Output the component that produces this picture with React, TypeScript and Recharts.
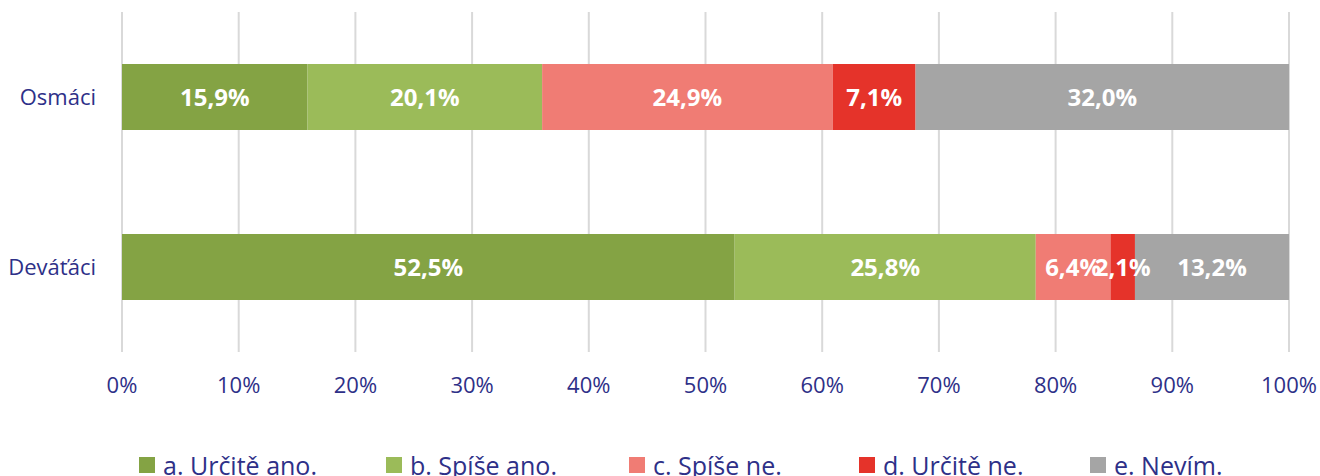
import * as React from "react";
import {
	BarChart,
	Bar,
	XAxis,
	YAxis,
	CartesianGrid,
	Legend,
	LabelList,
} from "recharts";

// ─── Data ──────────────────────────────────────────────────────────────────

const categories = ["Osmáci", "Deváťáci"];
const seriesNames = [
	"a. Určitě ano.",
	"b. Spíše ano.",
	"c. Spíše ne.",
	"d. Určitě ne.",
	"e. Nevím.",
];
const seriesKeys = ["a", "b", "c", "d", "e"];
const urciteAno = [15.9, 52.5];
const spiseAno = [20.1, 25.8];
const spiseNe = [24.9, 6.4];
const urciteNe = [7.1, 2.1];
const nevim = [32.0, 13.2];
const xTicks = [0, 10, 20, 30, 40, 50, 60, 70, 80, 90, 100];

const colors = ["#84a344", "#9bbb59", "#f07c74", "#e5332a", "#a5a5a5"];
const textColor = "#2e3088";
const fontFamily = "'Open Sans', 'Noto Sans', sans-serif";

const data = categories.map((name, i) => ({
	name,
	a: urciteAno[i],
	b: spiseAno[i],
	c: spiseNe[i],
	d: urciteNe[i],
	e: nevim[i],
}));

const fmtPct = (v: number) => `${v.toFixed(1).replace(".", ",")}%`;

// ─── Legend ────────────────────────────────────────────────────────────────

function ChartLegend() {
	const offsets = [139, 386, 629, 859, 1090];
	return (
		<div style={{ position: "relative", width: 1320, height: 74 }}>
			{seriesNames.map((n, i) => (
				<div
					key={n}
					style={{
						position: "absolute",
						left: offsets[i],
						top: 46,
						display: "flex",
						alignItems: "center",
						fontFamily,
						fontSize: 25,
						lineHeight: "34px",
						color: textColor,
						whiteSpace: "nowrap",
					}}
				>
					<span
						style={{
							display: "inline-block",
							width: 16,
							height: 16,
							background: colors[i],
							marginRight: 8,
						}}
					/>
					{n}
				</div>
			))}
		</div>
	);
}

// ─── App ───────────────────────────────────────────────────────────────────

export default function App() {
	return (
		<div style={{ position: "absolute", left: 0, top: 0, width: 1320, height: 476, overflow: "hidden", background: "#fff" }}>
			<BarChart
				width={1320}
				height={476}
				data={data}
				layout="vertical"
				margin={{ top: 12, right: 31, bottom: 0, left: 0 }}
				barCategoryGap={52}
			>
				<CartesianGrid
					horizontal={false}
					vertical
					stroke="#d9d9d9"
					strokeWidth={2}
				/>
				<XAxis
					type="number"
					domain={[0, 100]}
					ticks={xTicks}
					tickFormatter={(v: number) => `${v}%`}
					axisLine={false}
					tickLine={false}
					tick={{ fill: textColor, fontSize: 22, fontFamily }}
					tickMargin={19}
					height={50}
				/>
				<YAxis
					type="category"
					dataKey="name"
					width={122}
					axisLine={false}
					tickLine={false}
					tick={{ fill: textColor, fontSize: 22, fontFamily }}
					tickMargin={20}
				/>
				<Legend
					verticalAlign="bottom"
					content={() => <ChartLegend />}
					wrapperStyle={{ left: 0, width: 1320, height: 74 }}
				/>
				{seriesKeys.map((k, i) => (
					<Bar
						key={k}
						dataKey={k}
						name={seriesNames[i]}
						stackId="s"
						fill={colors[i]}
						isAnimationActive={false}
					>
						<LabelList
							dataKey={k}
							position="center"
							formatter={(v: number) => fmtPct(v)}
							fill="#ffffff"
							style={{ fontFamily, fontSize: 24, fontWeight: 700 }}
						/>
					</Bar>
				))}
			</BarChart>
		</div>
	);
}
